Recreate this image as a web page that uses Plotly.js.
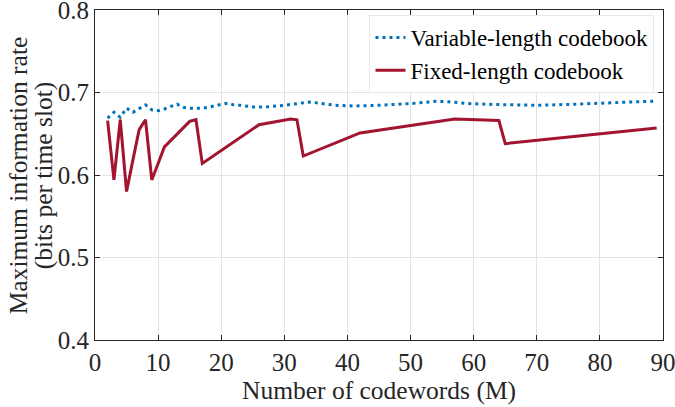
<!DOCTYPE html>
<html>
<head>
<meta charset="utf-8">
<script src="https://cdn.plot.ly/plotly-3.0.1.min.js"></script>
<style>html,body{margin:0;padding:0;background:#fff;}#chart{width:675px;height:407px;}</style>
</head>
<body>
<div id="chart"></div>
<script>
// Variable-length codebook
const varM    = [2, 3, 4, 5, 6, 7, 8, 9, 10, 11, 12, 13, 14, 15, 17, 18, 19, 21, 22, 23, 25, 27, 30, 32, 34, 36, 38, 41, 45, 50, 54, 56, 59, 63, 70, 75, 80, 85, 89];
const varRate = [0.669, 0.676, 0.670, 0.681, 0.676, 0.681, 0.685, 0.679, 0.678, 0.680, 0.683, 0.686, 0.682, 0.681, 0.681, 0.682, 0.684, 0.687, 0.685, 0.6845, 0.6825, 0.6825, 0.6845, 0.6866, 0.6885, 0.6866, 0.6845, 0.6836, 0.6845, 0.6866, 0.6893, 0.6888, 0.6866, 0.6855, 0.6845, 0.6855, 0.6874, 0.6885, 0.6897];
// Fixed-length codebook
const fixM    = [2, 3, 4, 5, 6, 7, 8, 9, 10, 11, 15, 16, 17, 26, 31, 32, 33, 42, 57, 63, 64, 65, 89];
const fixRate = [0.666, 0.594, 0.667, 0.580, 0.618, 0.655, 0.667, 0.594, 0.614, 0.634, 0.665, 0.667, 0.614, 0.661, 0.668, 0.667, 0.623, 0.651, 0.668, 0.667, 0.666, 0.638, 0.657];
const xTicks = [0, 10, 20, 30, 40, 50, 60, 70, 80, 90];
const yTicks = [0.4, 0.5, 0.6, 0.7, 0.8];
const yTickText = ['0.4', '0.5', '0.6', '0.7', '0.8'];
const xTitle = 'Number of codewords (M)';
const yTitleLines = ['Maximum information rate', '(bits per time slot)'];

const font = "'Liberation Serif', 'Times New Roman', serif";
const traces = [
  {x: varM, y: varRate, mode: 'lines', name: 'Variable-length codebook',
   line: {color: '#0072BD', width: 3, dash: '3px,4px'}},
  {x: fixM, y: fixRate, mode: 'lines', name: 'Fixed-length codebook',
   line: {color: '#A2142F', width: 3}}
];
const axisCommon = {
  showgrid: true, gridcolor: '#e3e3e3', gridwidth: 1,
  showline: true, linecolor: '#262626', linewidth: 1, mirror: 'ticks',
  ticks: 'inside', ticklen: 5, tickcolor: '#262626', zeroline: false,
  ticklabeloverflow: 'allow',
  tickfont: {family: font, size: 25, color: '#262626'}
};
const titleFont = {family: font, size: 25.5, color: '#262626'};
const layout = {
  width: 675, height: 407,
  font: {family: font, size: 25, color: '#262626'},
  margin: {l: 95, r: 12, t: 10, b: 67},
  paper_bgcolor: '#fff', plot_bgcolor: '#fff',
  showlegend: true,
  legend: {x: 0.985, xanchor: 'right', y: 0.985, yanchor: 'top',
           bgcolor: '#fff', bordercolor: '#e8e8e8', borderwidth: 1,
           font: {family: font, size: 23, color: '#000'}, tracegroupgap: 0},
  xaxis: Object.assign({}, axisCommon, {range: [0, 90], tickvals: xTicks, ticktext: xTicks.map(String)}),
  yaxis: Object.assign({}, axisCommon, {range: [0.4, 0.8], tickvals: yTicks, ticktext: yTickText}),
  annotations: [
    {text: xTitle, xref: 'paper', yref: 'paper', x: 0.5, y: -0.153, xanchor: 'center', yanchor: 'middle',
     showarrow: false, font: titleFont},
    {text: yTitleLines[0], xref: 'paper', yref: 'paper', x: -0.135, y: 0.5, xanchor: 'center', yanchor: 'middle',
     textangle: -90, showarrow: false, font: titleFont},
    {text: yTitleLines[1], xref: 'paper', yref: 'paper', x: -0.091, y: 0.5, xanchor: 'center', yanchor: 'middle',
     textangle: -90, showarrow: false, font: titleFont}
  ]
};
Plotly.newPlot('chart', traces, layout, {displayModeBar: false, staticPlot: true});
</script>
</body>
</html>
